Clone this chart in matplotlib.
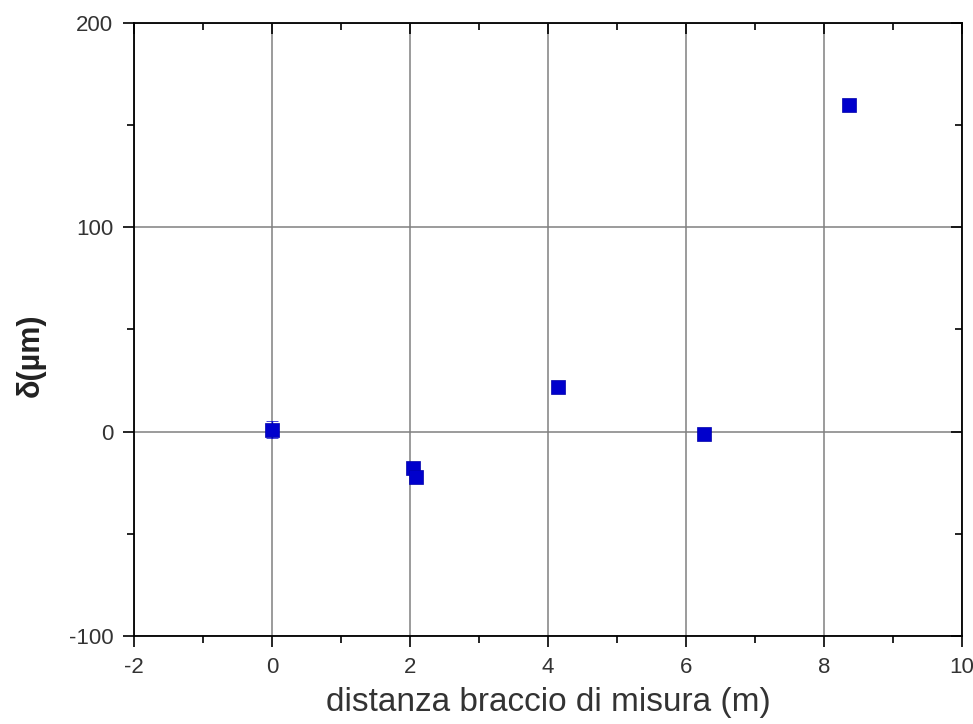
import matplotlib
matplotlib.use("Agg")
import matplotlib.pyplot as plt
from matplotlib.ticker import MultipleLocator

# data
x_vals = [0.0, 2.05, 2.09, 4.14, 6.26, 8.36]
y_vals = [1.0, -18.0, -22.0, 22.0, -1.0, 160.0]
y_err = [4.0, 0.0, 0.0, 0.0, 0.0, 0.0]
x_ticks = [-2, 0, 2, 4, 6, 8, 10]
y_ticks = [-100, 0, 100, 200]

plt.rcParams['font.family'] = ['Liberation Sans', 'DejaVu Sans']

fig = plt.figure(figsize=(9.73, 7.24), dpi=100)
ax = fig.add_axes([134/973, 1-636/724, (962-134)/973, (636-23)/724])

ax.errorbar(x_vals, y_vals, yerr=y_err, fmt='s', color='#0000CC',
            markersize=9.5, markeredgewidth=0.5, markeredgecolor='#0000AA',
            ecolor='#0000CC', elinewidth=1, capsize=4, zorder=3)

ax.set_xlim(-2, 10)
ax.set_ylim(-100, 200)
ax.set_xticks(x_ticks)
ax.set_yticks(y_ticks)
ax.set_xticklabels([str(t) for t in x_ticks])
ax.set_yticklabels([str(t) for t in y_ticks])
ax.xaxis.set_minor_locator(MultipleLocator(1))
ax.yaxis.set_minor_locator(MultipleLocator(50))

ax.grid(True, which='major', color='#808080', linewidth=1.1)
ax.set_axisbelow(True)

for s in ax.spines.values():
    s.set_linewidth(1.3)
    s.set_color('black')

ax.tick_params(axis='both', which='major', direction='out', length=8, width=1.2,
               labelsize=16, colors='black', labelcolor='#333333', pad=7)
ax.tick_params(axis='both', which='minor', direction='out', length=5, width=1.2)
# mirrored ticks on top/right pointing inward
ax.tick_params(axis='x', which='both', top=True)
ax.tick_params(axis='y', which='both', right=True)
for t in ax.xaxis.get_major_ticks() + ax.xaxis.get_minor_ticks():
    t.tick2line.set_marker(matplotlib.lines.TICKDOWN)
for t in ax.yaxis.get_major_ticks() + ax.yaxis.get_minor_ticks():
    t.tick2line.set_marker(matplotlib.lines.TICKLEFT)

ax.set_xlabel('distanza braccio di misura (m)', fontsize=24, color='#333333')
ax.xaxis.set_label_coords(0.5, (636-703)/613, transform=ax.transAxes)
ax.xaxis.label.set_va('center')
ax.set_ylabel('δ(µm)', fontsize=22, fontweight='bold', color='#222222')
ax.yaxis.set_label_coords((31-134)/828, (636-355)/613, transform=ax.transAxes)
ax.yaxis.label.set_va('center')

fig.savefig('out.png', dpi=100, facecolor='white')
